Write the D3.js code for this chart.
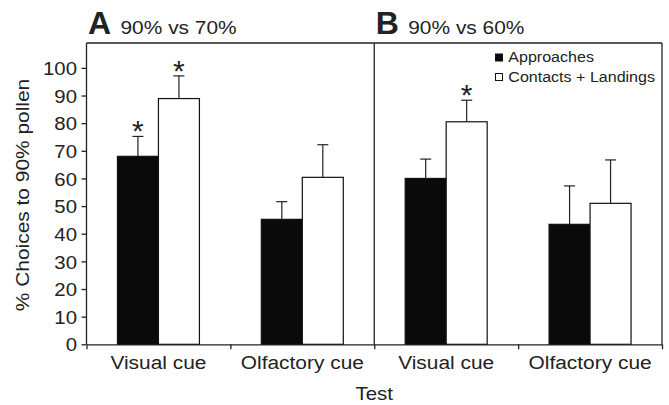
<!DOCTYPE html>
<html>
<head>
<meta charset="utf-8">
<script src="https://cdn.jsdelivr.net/npm/d3@7"></script>
<style>
  body { margin: 0; background: #fff; }
  svg { display: block; }
  text { font-family: "Liberation Sans", Arial, sans-serif; fill: #222; }
</style>
</head>
<body>
<svg id="chart" width="669" height="405"></svg>
<script>
// ---- data ----
const panels = ["A", "B"];
const panelTitles = ["90% vs 70%", "90% vs 60%"];
const categories = ["Visual cue", "Olfactory cue"];
const seriesNames = ["Approaches", "Contacts + Landings"];
// means per panel: [Visual cue, Olfactory cue]
const approachesA = [68, 45.2];
const approachesErrA = [7.2, 6.4];
const contactsA = [88.9, 60.4];
const contactsErrA = [8.2, 11.8];
const approachesB = [60, 43.4];
const approachesErrB = [7, 13.9];
const contactsB = [80.5, 51];
const contactsErrB = [7.8, 15.7];
const sigA = [[true, true], [false, false]];   // [category][series]
const sigB = [[false, true], [false, false]];
const yTicks = [0, 10, 20, 30, 40, 50, 60, 70, 80, 90, 100];
const xTitle = "Test";
const yTitle = "% Choices to 90% pollen";

// build table
const rows = [];
const panelData = [
  {a: approachesA, ae: approachesErrA, c: contactsA, ce: contactsErrA, s: sigA},
  {a: approachesB, ae: approachesErrB, c: contactsB, ce: contactsErrB, s: sigB}
];
panels.forEach((p, pi) => {
  categories.forEach((cat, ci) => {
    const d = panelData[pi];
    rows.push({key: p + "|" + cat, panel: p, cat: cat, series: "Approaches", v: d.a[ci], e: d.ae[ci], sig: d.s[ci][0]});
    rows.push({key: p + "|" + cat, panel: p, cat: cat, series: "Contacts + Landings", v: d.c[ci], e: d.ce[ci], sig: d.s[ci][1]});
  });
});
const groupKeys = [];
panels.forEach(p => categories.forEach(c => groupKeys.push(p + "|" + c)));

// ---- layout ----
const mLeft = 86.5, mRight = 662, mTop = 43, mBottom = 344.3;
const SX = 1.1; // horizontal text stretch seen in the reference
const svg = d3.select("#chart");
const ink = "#222";

function sText(parent, x, y, sx, extra) {
  return parent.append("text").attr("transform", `translate(${x},${y})${extra || ""} scale(${sx},1)`);
}

const x0 = d3.scaleBand().domain(groupKeys).range([mLeft, mRight]).padding(0);
const x1 = d3.scaleBand().domain(seriesNames).range([0, x0.bandwidth()]).paddingInner(0).paddingOuter(0.755);
const y = d3.scaleLinear().domain([0, 109]).range([mBottom, mTop]);
const xb = d3.scaleLinear().domain([0, groupKeys.length]).range([mLeft, mRight]);

// bars
const bars = svg.append("g");
bars.selectAll("rect").data(rows).join("rect")
  .attr("x", d => x0(d.key) + x1(d.series))
  .attr("width", x1.bandwidth())
  .attr("y", d => y(d.v))
  .attr("height", d => y(0) - y(d.v))
  .attr("fill", d => d.series === "Approaches" ? "#0a0a0a" : "#fff")
  .attr("stroke", "#111")
  .attr("stroke-width", 1.2);

// error bars
const eb = svg.append("g").attr("stroke", "#222").attr("stroke-width", 1.2);
rows.forEach(d => {
  const cx = x0(d.key) + x1(d.series) + x1.bandwidth() / 2;
  eb.append("line").attr("x1", cx).attr("x2", cx).attr("y1", y(d.v)).attr("y2", y(d.v + d.e));
  eb.append("line").attr("x1", cx - 5.5).attr("x2", cx + 5.5).attr("y1", y(d.v + d.e)).attr("y2", y(d.v + d.e));
});

// significance asterisks
svg.append("g").selectAll("text").data(rows.filter(d => d.sig)).join("text")
  .attr("x", d => x0(d.key) + x1(d.series) + x1.bandwidth() / 2)
  .attr("y", d => y(d.v + d.e) + 5)
  .attr("text-anchor", "middle")
  .attr("font-size", 30)
  .text("*");

// y axis
const yAxis = svg.append("g").attr("transform", `translate(${mLeft},0)`)
  .call(d3.axisLeft(y).tickValues(yTicks).tickSize(5).tickSizeOuter(0).tickPadding(4));
yAxis.select(".domain").attr("stroke", ink).attr("stroke-width", 1.3).attr("d", `M0,${mBottom}V${mTop}`);
yAxis.selectAll(".tick line").attr("stroke", ink).attr("stroke-width", 1.3);
yAxis.selectAll(".tick text").attr("font-size", 18.5).attr("font-family", "Liberation Sans, Arial, sans-serif")
  .attr("fill", ink).attr("dy", "0.36em").attr("x", -9.5 / SX).attr("transform", `scale(${SX},1)`);

// x axis ticks at group boundaries
const xAxis = svg.append("g").attr("transform", `translate(0,${mBottom})`)
  .call(d3.axisBottom(xb).tickValues(d3.range(0, groupKeys.length + 1)).tickSize(5).tickSizeOuter(0).tickFormat(""));
xAxis.select(".domain").attr("stroke", ink).attr("stroke-width", 1.3);
xAxis.selectAll(".tick line").attr("stroke", ink).attr("stroke-width", 1.3);

// x category labels
const xLab = svg.append("g").attr("transform", `translate(0,${mBottom})`)
  .call(d3.axisBottom(x0).tickSize(0).tickPadding(11).tickFormat(k => k.split("|")[1]));
xLab.select(".domain").remove();
xLab.selectAll(".tick text").attr("font-size", 19).attr("font-family", "Liberation Sans, Arial, sans-serif")
  .attr("fill", ink).attr("transform", `scale(${SX},1)`);

// frame: top line, right line, panel divider
const frame = svg.append("g").attr("stroke", ink).attr("stroke-width", 1.3).attr("fill", "none");
frame.append("line").attr("x1", mLeft).attr("x2", mRight).attr("y1", mTop).attr("y2", mTop);
frame.append("line").attr("x1", mRight).attr("x2", mRight).attr("y1", mTop).attr("y2", mBottom);
frame.append("line").attr("x1", xb(2)).attr("x2", xb(2)).attr("y1", mTop).attr("y2", mBottom);

// panel titles
panels.forEach((p, i) => {
  const px = xb(i * 2) + 1.5;
  sText(svg, px, 34.3, 1.05).attr("font-size", 30.5).attr("font-weight", "bold").text(p);
  sText(svg, px + 32.5, 34.3, SX).attr("font-size", 19).text(panelTitles[i]);
});

// legend
const lg = svg.append("g").attr("transform", "translate(495,0)");
seriesNames.forEach((s, i) => {
  const yy = 62.3 + i * 19.5;
  lg.append("rect").attr("x", 0.5).attr("y", yy - 8.3).attr("width", 7).attr("height", 7)
    .attr("fill", i === 0 ? "#0a0a0a" : "#fff").attr("stroke", "#111").attr("stroke-width", 1);
  sText(lg, 13.3, yy, SX).attr("font-size", 14.6).text(s);
});

// axis titles
sText(svg, xb(2), 400, SX).attr("text-anchor", "middle").attr("font-size", 18.6).text(xTitle);
sText(svg, 28.5, 195, SX, " rotate(-90)").attr("text-anchor", "middle").attr("font-size", 19).text(yTitle);
</script>
</body>
</html>
